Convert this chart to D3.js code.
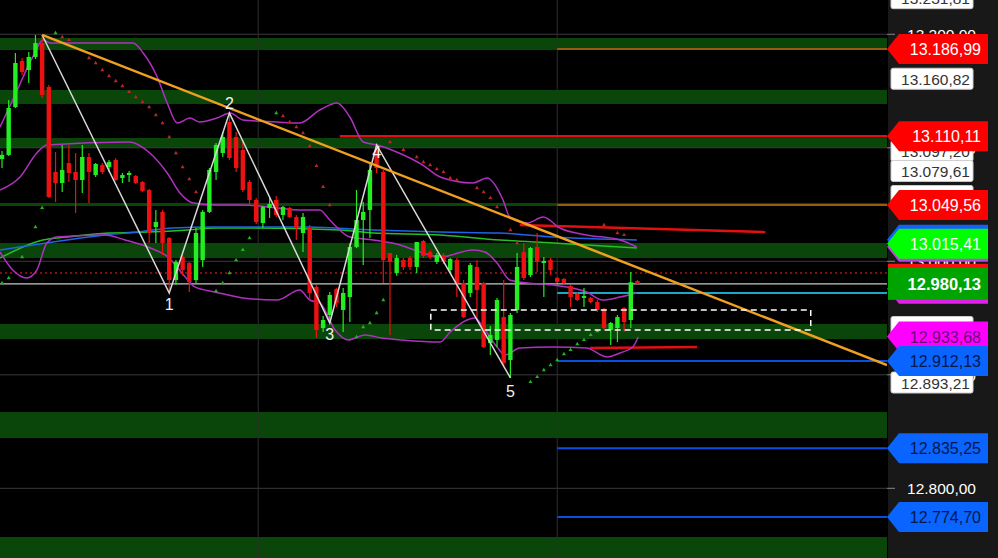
<!DOCTYPE html>
<html><head><meta charset="utf-8">
<script src="https://cdn.jsdelivr.net/npm/d3@7"></script>
<style>html,body{margin:0;padding:0;background:#000;overflow:hidden}svg{display:block}</style>
</head><body><svg id="c" width="998" height="558"></svg>
<script>
// ---------- DATA ----------
const opens = [13090.1,13093.7,13135.9,13176.5,13168.5,13180.0,13192.3,13153.6,13078.7,13069.0,
13086.6,13078.7,13071.6,13091.9,13076.0,13084.8,13083.1,13089.2,13073.4,13076.0,
13075.1,13069.9,13062.8,13030.2,13043.5,13020.5,12983.5,13003.8,12998.5,12983.5,
13001.1,13043.5,13078.7,13095.4,13122.7,13109.5,13098.1,13069.9,13054.0,13033.7,
13047.0,13054.0,13040.8,13047.0,13039.0,13024.9,13030.2,12977.4,12941.2,12952.7,
12975.6,12957.1,12968.5,13012.6,13036.4,13045.2,13098.1,13078.7,13007.3,12989.7,
13001.1,13002.9,12995.0,13017.9,13008.2,12999.4,13005.6,12992.3,13001.1,12980.9,
12972.1,12995.0,12980.9,12928.0,12930.7,12950.9,12913.0,12957.1,13008.2,12987.9,
13012.6,12998.5,13001.1,12985.3,12984.4,12978.2,12971.2,12967.7,12967.7,12964.1,
12957.1,12939.5,12941.2,12958.8,12948.3,12982.6];
const closes = [13093.7,13135.1,13174.7,13166.8,13180.0,13192.3,13146.5,13056.6,13069.0,13080.5,
13077.8,13071.6,13091.9,13078.7,13085.7,13078.7,13087.5,13071.6,13076.0,13077.8,
13069.0,13061.9,13024.9,13034.6,13016.1,12983.5,12999.4,12992.3,12981.8,13024.9,
13043.5,13080.5,13102.5,13109.5,13091.0,13082.2,13062.8,13054.0,13034.6,13047.8,
13050.5,13040.8,13047.8,13039.0,13029.3,13039.0,12972.1,12939.5,12948.3,12970.3,
12963.3,12972.1,13012.6,13036.4,13043.5,13080.5,13082.2,13001.1,12999.4,13002.9,
12995.0,12995.0,13017.0,13004.7,13003.8,13005.6,12999.4,13002.0,12980.9,12950.9,
12996.7,12974.7,12924.5,12935.1,12965.9,12910.4,12952.7,12995.0,12985.3,13011.7,
12999.4,13000.3,12992.3,12981.8,12980.9,12968.5,12965.9,12969.4,12964.1,12957.1,
12941.2,12945.6,12950.9,12946.5,12981.5,12980.13];
const highs = [13097.2,13142.1,13183.5,13179.1,13184.4,13199.4,13199.4,13155.3,13096.3,13102.5,
13102.5,13095.4,13102.5,13095.4,13086.6,13086.6,13089.2,13091.0,13077.8,13079.5,
13076.0,13070.8,13063.7,13045.2,13045.2,13021.4,13001.1,13005.6,12999.4,13029.3,
13045.2,13082.2,13104.2,13113.9,13130.6,13113.9,13106.9,13071.6,13055.8,13048.7,
13055.8,13057.5,13048.7,13047.8,13040.8,13042.6,13032.0,12979.1,12951.8,12973.0,
12976.5,12976.5,13016.1,13062.8,13052.2,13087.5,13102.5,13080.5,13007.3,13005.6,
13002.9,13004.7,13017.0,13018.8,13010.0,13007.3,13007.3,13002.9,13002.9,12983.5,
12998.5,13001.1,12981.8,12943.0,12967.7,12983.5,12954.4,13007.3,13016.1,13012.6,
13024.9,13003.8,13002.9,12986.2,12985.3,12979.1,12973.0,12976.5,12968.5,12965.9,
12958.8,12946.5,12952.7,12959.7,12990.6,12983.5];
const lows = [13082.2,13092.8,13135.0,13164.1,13157.1,13178.2,13143.9,13055.8,13052.2,13061.0,
13069.9,13042.6,13060.2,13051.4,13074.3,13076.9,13078.7,13070.8,13069.0,13069.9,
13068.1,13061.0,13016.1,13016.1,13005.6,12974.7,12979.1,12987.2,12973.0,12980.9,
12995.0,13042.6,13071.6,13091.9,13089.2,13078.7,13061.0,13049.6,13032.9,13029.3,
13038.2,13039.0,13036.4,13038.2,13018.8,13008.2,12965.9,12932.4,12937.7,12945.6,
12959.7,12937.7,12946.5,13011.7,12996.7,13020.5,13077.8,12980.9,12935.1,12987.2,
12992.3,12992.3,12989.7,13002.9,13002.0,12997.6,12997.6,12989.7,12968.5,12950.0,
12968.5,12948.3,12923.6,12917.4,12924.5,12906.9,12897.2,12954.4,12983.5,12986.2,
12990.6,12968.5,12987.9,12980.9,12980.0,12959.7,12965.0,12959.7,12963.3,12955.3,
12939.5,12926.3,12928.9,12937.7,12941.2,12980.0];

// Bollinger bands [candle index, price]
const bbUpper = [[-0.3,13118.3],[1.6,13142.1],[4.6,13180.0],[6.1,13195.0],[7.2,13192.3],[19.6,13192.3],[21.1,13183.5],[23.2,13162.4],[24.7,13139.5],[26.2,13121.8],[28.1,13126.2],[29.6,13122.7],[32.1,13126.2],[34.1,13130.6],[36.0,13124.5],[41.1,13122.7],[44.5,13121.8],[47.5,13133.3],[50.1,13139.5],[52.0,13127.1],[54.0,13105.1],[56.1,13102.5],[59.0,13096.3],[62.9,13084.8],[65.5,13074.3],[70.4,13069.0],[72.5,13073.4],[74.9,13054.0],[75.9,13039.0],[78.5,13033.7],[80.9,13039.0],[83.4,13029.3],[87.4,13023.2],[92.4,13018.8],[94.9,13012.6]];
const bbMiddle = [[-0.3,13062.8],[2.7,13074.3],[5.2,13095.4],[6.7,13102.5],[19.1,13105.1],[22.1,13095.4],[24.7,13077.8],[26.6,13060.2],[28.6,13051.4],[32.1,13049.6],[36.0,13049.6],[41.1,13047.0],[44.5,13045.2],[47.5,13045.2],[49.0,13036.4],[52.0,13021.4],[55.5,13018.8],[59.5,13014.4],[62.9,13007.3],[65.5,13003.8],[70.4,13010.0],[72.2,13008.2],[74.0,12998.5],[75.9,12983.5],[78.5,12980.9],[82.4,12979.1],[87.4,12973.0],[89.8,12965.9],[92.4,12968.5],[94.9,12972.1]];
const bbLower = [[-0.3,13008.2],[1.6,12992.3],[3.7,12985.3],[5.2,12992.3],[6.7,13016.1],[8.2,13021.4],[15.4,13023.2],[18.4,13018.8],[21.8,13012.6],[24.8,13003.8],[27.4,12986.2],[28.8,12977.4],[31.8,12973.0],[36.0,12967.7],[41.1,12965.9],[44.5,12974.7],[46.0,12965.9],[47.5,12963.3],[49.8,12939.5],[51.7,12930.7],[54.3,12935.1],[56.8,12932.4],[59.8,12930.7],[65.5,12928.9],[67.0,12937.7],[69.5,12948.3],[70.7,12950.0],[71.9,12942.1],[74.0,12924.5],[75.2,12917.4],[77.4,12923.6],[82.4,12924.5],[87.4,12923.6],[90.4,12915.7],[92.4,12919.2],[94.3,12924.5],[95.1,12933.3]];
const maBlue = [[-0.3,13010.0],[4.6,13014.4],[9.7,13018.8],[15.4,13023.2],[20.3,13025.8],[25.4,13029.3],[31.8,13030.2],[37.5,13030.2],[45.6,13030.2],[55.5,13027.6],[65.5,13025.8],[74.4,13024.9],[82.4,13021.4],[94.9,13018.8]];
const maGreen = [[-0.3,13002.9],[6.1,13018.8],[9.7,13021.4],[16.1,13024.9],[21.8,13025.8],[27.8,13027.6],[31.8,13029.3],[36.0,13029.3],[50.5,13027.6],[55.5,13024.9],[65.5,13023.2],[74.4,13018.8],[82.4,13016.1],[94.9,13011.7]];

// Parabolic SAR [index, price]
const sarRed = [[9,13197.6],[10,13195.0],[13,13179.1],[14,13174.7],[15,13168.5],[16,13163.2],[17,13158.8],[18,13154.4],[19,13149.2],[20,13144.7],[21,13140.3],[22,13135.9],[23,13128.9],[24,13121.8],[25,13109.5],[26,13095.4],[27,13083.1],[28,13072.5],[29,13061.0],
[42,13128.0],[43,13122.7],[44,13118.3],[45,13113.0],[46,13101.6],[47,13084.0],[48,13065.5],[49,13049.6],
[58,13105.1],[60,13098.1],[62,13091.9],[63,13087.5],[64,13084.8],[65,13081.3],[66,13078.7],[67,13073.4],[68,13071.6],[71,13064.6],[72,13061.0],[73,13055.8],[74,13047.8],[76,13027.6],[77,13016.1],
[90,13032.0],[92,13024.9],[93,13023.2]];
const sarGreen = [[0,12980.9],[1,12985.3],[3,13003.8],[5,13030.2],[6,13047.0],[8,13201.1],
[32,12973.8],[33,12980.9],[34,12989.7],[35,13001.1],[36,13010.0],[37,13020.5],[41,13130.6],
[53,12933.3],[54,12942.1],[55,12945.6],[56,12954.4],[57,12965.9],
[79,12893.7],[80,12898.1],[81,12904.2],[82,12908.6],[83,12913.0],[84,12918.3],[85,12921.9],[86,12927.1],[87,12930.7],[88,12935.1],[89,12938.6]];

// Elliott wave zigzag [index, price, label, label offset in px]
const wavePoints = [[6,13199.4,"",0],[25,12972.1,"1",17],[34,13130.6,"2",-4],[49,12945.6,"3",17],[56,13102.5,"4",13],[76,12897.2,"5",19]];
// Trend line end points
const trendLine = [[6,13199.4],[132.3,12908.6]];
// Dark green zones [from, to]
const greenZones = [[13196.7,13186.1],[13150.9,13138.6],[13108.6,13099.8],[13051.4,13048.7],[13016.1,13002.9],[12944.8,12931.5],[12867.2,12844.3],[12757.1,12738.6]];
// Horizontal levels [price, startIndex, endIndex, color, width, dash]
const levels = [
  [13186.99, 83, 132.3, "#9a5a10", 2, null],
  [13110.11, 50.5, 132.3, "#e41010", 2.5, null],
  [13049.56, 83, 132.3, "#9a5a10", 2, null],
  [12989.7, -0.3, 132.3, "#ff2020", 1.2, "2,3"],
  [12980.13, -0.3, 132.3, "#c8c8c8", 1.2, null],
  [12972.1, 83, 132.3, "#1aa8c8", 2, null],
  [12912.13, 83, 132.3, "#0a50e0", 2, null],
  [12835.25, 83, 132.3, "#0a50e0", 2, null],
  [12774.70, 83, 132.3, "#0a50e0", 2, null]
];
const redSegments = [[[77.4,13032.0],[114.1,13025.8]],[[87.9,12923.6],[103.9,12924.5]]];
const dashedBox = {i0:64.1, i1:120.9, top:12957.1, bottom:12939.5};
const gridPrices = [13200, 13100, 13000, 12900, 12800];
const gridIndex = [38.3, 83.0];
// Right-axis price labels
const whiteTags = [13231.81, 13160.82, 13097.20, 13079.61, 13057.50, 12942.10, 12893.21];
const tagValues = [13186.99, 13110.11, 13049.56, 13015.41, 12980.13, 12933.68, 12912.13, 12835.25, 12774.70];
const tagFill   = ["#ff0000","#ff0000","#ff0000","#00ff00","#00a400","#ff00ff","#0a64ff","#0a64ff","#0a64ff"];
const tagText   = ["#ffffff","#ffffff","#ffffff","#ffffff","#ffffff","#6a0a7a","#00194d","#00194d","#00194d"];

// ---------- SCALES ----------
const W = 998, H = 558, plotR = 887;
const x = d3.scaleLinear().domain([-0.3, 132.3]).range([0, plotR]);
const y = d3.scaleLinear().domain([12738.6, 13230.2]).range([H, 0]);
const fmt = v => d3.format(",.2f")(v).replace(/,/g, "#").replace(".", ",").replace(/#/g, ".");

const svg = d3.select("#c");
svg.append("rect").attr("width", W).attr("height", H).attr("fill", "#000");

const plot = svg.append("g");
plot.append("clipPath").attr("id","clip").append("rect").attr("width", plotR).attr("height", H);
const g = plot.append("g").attr("clip-path","url(#clip)");

// zones
g.selectAll(".zone").data(greenZones).join("rect")
  .attr("x", 0).attr("width", plotR)
  .attr("y", d => y(d[0])).attr("height", d => y(d[1]) - y(d[0]))
  .attr("fill", "#0a460a");

// grid
g.selectAll(".hg").data(gridPrices).join("line")
  .attr("x1", 0).attr("x2", plotR).attr("y1", d => y(d)).attr("y2", d => y(d))
  .attr("stroke", "#3a3a3a").attr("stroke-width", 1);
g.selectAll(".vg").data(gridIndex).join("line")
  .attr("x1", d => x(d)).attr("x2", d => x(d)).attr("y1", 0).attr("y2", H)
  .attr("stroke", "#2e2e2e").attr("stroke-width", 1);

// levels
g.selectAll(".lvl").data(levels).join("line")
  .attr("x1", d => x(d[1])).attr("x2", d => x(d[2]))
  .attr("y1", d => y(d[0])).attr("y2", d => y(d[0]))
  .attr("stroke", d => d[3]).attr("stroke-width", d => d[4])
  .attr("stroke-dasharray", d => d[5]);
g.selectAll(".rs").data(redSegments).join("line")
  .attr("x1", d => x(d[0][0])).attr("y1", d => y(d[0][1]))
  .attr("x2", d => x(d[1][0])).attr("y2", d => y(d[1][1]))
  .attr("stroke", "#e41010").attr("stroke-width", 2.5);

const line = d3.line().x(d => x(d[0])).y(d => y(d[1])).curve(d3.curveMonotoneX);
g.append("path").attr("d", line(maGreen)).attr("fill","none").attr("stroke","#22c022").attr("stroke-width",1.5);
g.append("path").attr("d", line(maBlue)).attr("fill","none").attr("stroke","#1e64e6").attr("stroke-width",1.5);
[bbUpper, bbMiddle, bbLower].forEach(b => {
  g.append("path").attr("d", line(b)).attr("fill","none").attr("stroke","#b030c0").attr("stroke-width",1.5);
});

// candles
const idx = d3.range(opens.length);
const cg = g.append("g");
cg.selectAll(".wick").data(idx).join("line")
  .attr("x1", i => x(i)).attr("x2", i => x(i))
  .attr("y1", i => y(highs[i])).attr("y2", i => y(lows[i]))
  .attr("stroke", i => closes[i] >= opens[i] ? "#22ee22" : "#ee1111").attr("stroke-width", 1.2);
cg.selectAll(".body").data(idx).join("rect")
  .attr("x", i => x(i) - 2.2).attr("width", 4.4)
  .attr("y", i => y(Math.max(opens[i], closes[i])))
  .attr("height", i => Math.max(1.5, Math.abs(y(opens[i]) - y(closes[i]))))
  .attr("fill", i => closes[i] >= opens[i] ? "#22ee22" : "#ee1111");

// SAR
const tri = d3.symbol().type(d3.symbolTriangle).size(7);
g.selectAll(".sr").data(sarRed).join("path").attr("d", tri)
  .attr("transform", d => `translate(${x(d[0])},${y(d[1])})`).attr("fill", "#c02424");
g.selectAll(".sg").data(sarGreen).join("path").attr("d", tri)
  .attr("transform", d => `translate(${x(d[0])},${y(d[1])})`).attr("fill", "#22b422");

// zigzag
g.append("path").attr("d", d3.line().x(d => x(d[0])).y(d => y(d[1]))(wavePoints))
  .attr("fill","none").attr("stroke","#d8d8d8").attr("stroke-width",1.5);
// trend line
g.append("path").attr("d", d3.line().x(d => x(d[0])).y(d => y(d[1]))(trendLine))
  .attr("fill","none").attr("stroke","#f0a020").attr("stroke-width",2.5);
// wave labels
g.selectAll(".wl").data(wavePoints.filter(d => d[2])).join("text")
  .attr("x", d => x(d[0]))
  .attr("y", d => y(d[1]) + d[3])
  .attr("text-anchor","middle").attr("fill","#f0f0f0")
  .attr("font-family","Liberation Sans, Arial, sans-serif").attr("font-size",16)
  .text(d => d[2]);

// dashed box
g.append("rect").attr("x", x(dashedBox.i0)).attr("width", x(dashedBox.i1) - x(dashedBox.i0))
  .attr("y", y(dashedBox.top)).attr("height", y(dashedBox.bottom) - y(dashedBox.top))
  .attr("fill","none").attr("stroke","#ffffff").attr("stroke-width",1.5).attr("stroke-dasharray","6,4");

// ---------- RIGHT AXIS ----------
const ax = svg.append("g");
ax.append("rect").attr("x", plotR).attr("y", 0).attr("width", W - plotR).attr("height", H).attr("fill", "#181818");
ax.append("line").attr("x1", plotR + 0.5).attr("x2", plotR + 0.5).attr("y1", 0).attr("y2", H).attr("stroke", "#000");
const font = "Liberation Sans, Arial, sans-serif";
ax.selectAll(".tk").data(gridPrices).join("line")
  .attr("x1", plotR).attr("x2", plotR + 8).attr("y1", d => y(d)).attr("y2", d => y(d)).attr("stroke", "#888");
ax.selectAll(".tt").data(gridPrices).join("text")
  .attr("x", 976).attr("y", d => y(d) + 6).attr("text-anchor","end")
  .attr("fill","#ffffff").attr("font-family",font).attr("font-size",15.5).text(fmt);

// white tags
const wt = ax.selectAll(".wt").data(whiteTags).join("g").attr("transform", d => `translate(0,${y(d)})`);
wt.append("rect").attr("x", 891).attr("y", -10.5).attr("width", 82).attr("height", 21).attr("rx", 2)
  .attr("fill","#ffffff").attr("stroke","#cccccc");
wt.append("text").attr("x", 970).attr("y", 6).attr("text-anchor","end").attr("fill","#333")
  .attr("font-family",font).attr("font-size",15.5).text(fmt);

// coloured tags
const arrow = (h) => `M887,0 L899,${-h/2} L988,${-h/2} L988,${h/2} L899,${h/2} Z`;
const tg = ax.selectAll(".ct").data(tagValues).join("g").attr("transform", d => `translate(0,${y(d)})`);
tg.each(function(d, i) {
  const s = d3.select(this);
  if (d === 13015.41) {
    s.append("path").attr("d", arrow(30)).attr("transform","translate(0,-4)").attr("fill","#1460ff");
    s.append("path").attr("d", arrow(30)).attr("transform","translate(0,3)").attr("fill","#c040e0");
  }
  if (d === 12980.13) {
    s.append("rect").attr("x", 888).attr("y", -20).attr("width", 100).attr("height", 10).attr("fill","#ff1010");
    s.append("path").attr("d", arrow(30)).attr("transform","translate(0,5)").attr("fill","#e020e8");
    s.append("rect").attr("x", 888).attr("y", -16).attr("width", 100).attr("height", 32).attr("fill", tagFill[i]);
  } else {
    s.append("path").attr("d", arrow(30)).attr("fill", tagFill[i]);
  }
  s.append("text").attr("x", 981).attr("y", 6).attr("text-anchor","end")
    .attr("fill", tagText[i]).attr("font-family", font)
    .attr("font-size", d === 12980.13 ? 16.5 : 16)
    .attr("font-weight", d === 12980.13 ? "bold" : "normal")
    .text(fmt(d));
});
</script>
</body></html>
